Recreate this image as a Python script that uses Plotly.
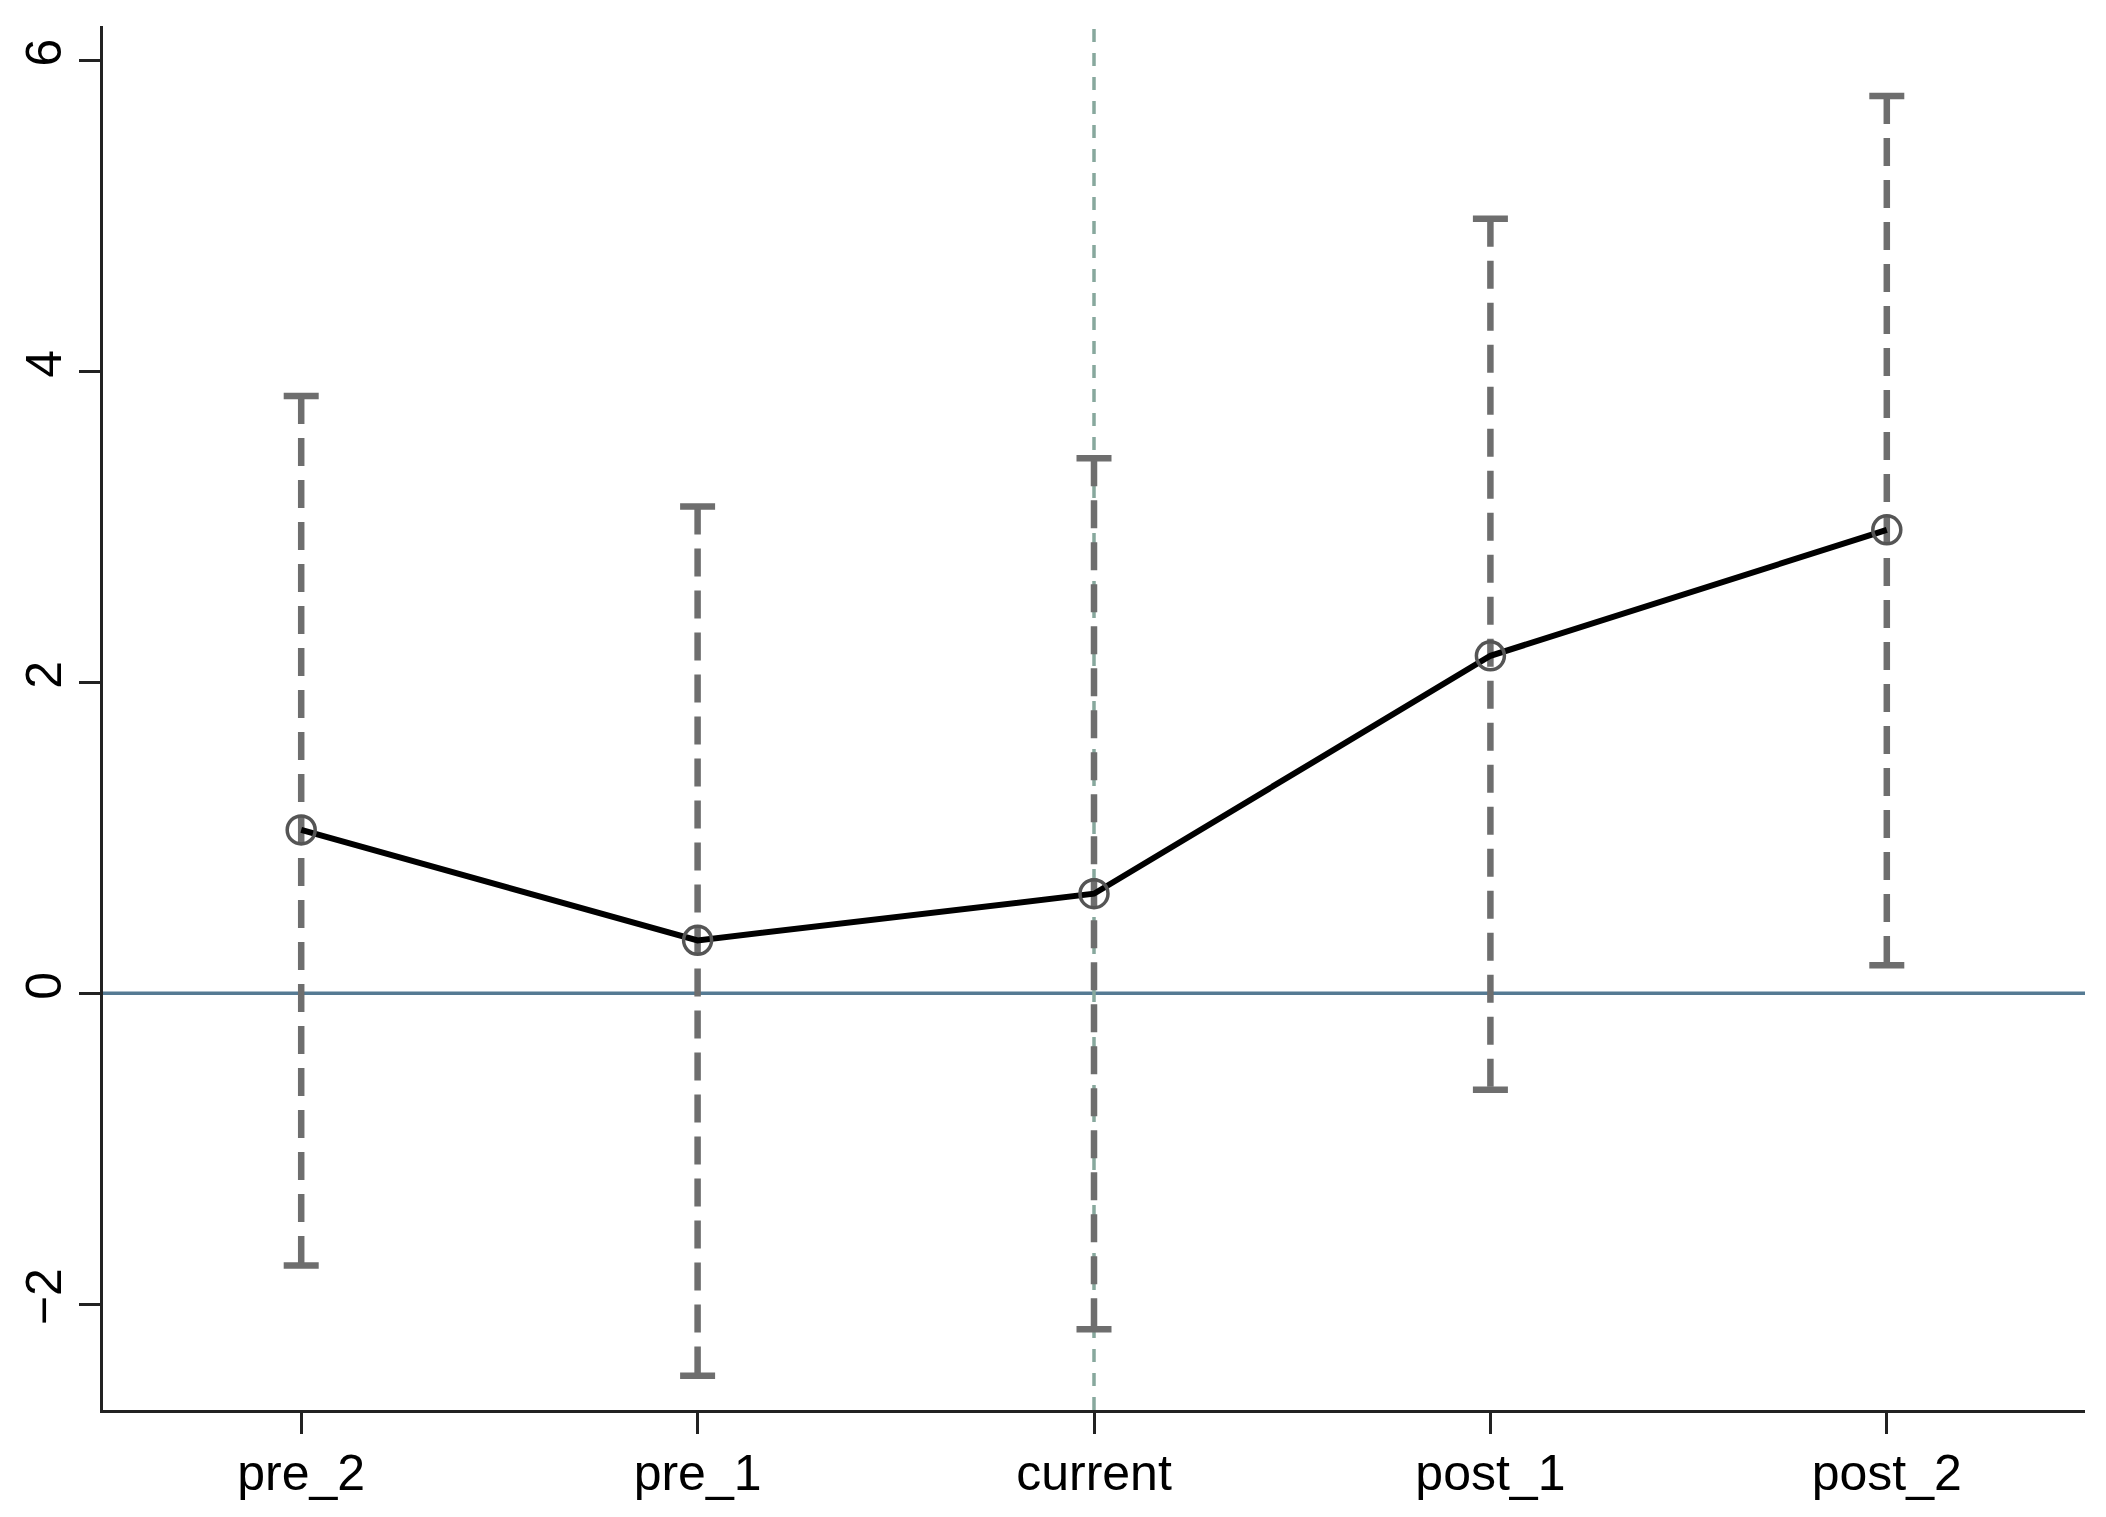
import plotly.graph_objects as go

categories = ["pre_2", "pre_1", "current", "post_1", "post_2"]
coef = [1.05, 0.34, 0.64, 2.17, 2.98]
ci_upper = [3.84, 3.13, 3.44, 4.98, 5.77]
ci_lower = [-1.75, -2.46, -2.16, -0.62, 0.18]
y_ticks = [-2, 0, 2, 4, 6]
event_category = "current"

BAR_COLOR = "#6e6e6e"
FONT = "Liberation Sans, Arial, sans-serif"

fig = go.Figure()

# dashed CI spikes
ex, ey = [], []
for c, lo, hi in zip(categories, ci_lower, ci_upper):
    ex += [c, c, None]
    ey += [hi, lo, None]
fig.add_trace(go.Scatter(
    x=ex, y=ey, mode="lines",
    line=dict(color=BAR_COLOR, width=6.5, dash="28px,14px"),
    hoverinfo="skip", showlegend=False,
))

# caps
fig.add_trace(go.Scatter(
    x=categories + categories, y=ci_upper + ci_lower, mode="markers",
    marker=dict(symbol="line-ew", size=25, line=dict(color=BAR_COLOR, width=6.5)),
    hoverinfo="skip", showlegend=False,
))

# coefficient line
fig.add_trace(go.Scatter(
    x=categories, y=coef, mode="lines",
    line=dict(color="black", width=6),
    showlegend=False,
))
fig.add_trace(go.Scatter(
    x=categories, y=coef, mode="markers",
    marker=dict(symbol="circle-open", size=28, color="#555555",
                line=dict(color="#555555", width=3.5)),
    showlegend=False,
))

# reference lines
fig.add_shape(type="line", xref="paper", x0=0, x1=1, yref="y", y0=0, y1=0,
              line=dict(color="#557a93", width=3.5), layer="below")
fig.add_shape(type="line", xref="x", x0=categories.index(event_category),
              x1=categories.index(event_category), yref="paper", y0=0, y1=1,
              line=dict(color="#87a89d", width=3.5, dash="13px,11px"), layer="below")

fig.update_layout(
    width=2090, height=1501,
    margin=dict(l=95, r=13, t=18, b=99, pad=0),
    paper_bgcolor="white", plot_bgcolor="white",
    font=dict(family=FONT, size=50, color="black"),
    showlegend=False,
)
fig.update_xaxes(
    type="category", categoryorder="array", categoryarray=categories,
    range=[-0.5, len(categories) - 0.5],
    showgrid=False, zeroline=False, automargin=False,
    showline=True, linecolor="#222222", linewidth=3,
    ticks="outside", ticklen=21, tickwidth=3, tickcolor="#222222",
    ticklabelstandoff=-4,
)
fig.update_yaxes(
    range=[-2.68, 6.22], tickvals=y_ticks,
    ticktext=[str(v).replace("-", "\u2212") for v in y_ticks],
    tickangle=-90,
    showgrid=False, zeroline=False, automargin=False,
    showline=True, linecolor="#222222", linewidth=3,
    ticks="outside", ticklen=21, tickwidth=3, tickcolor="#222222",
    ticklabelstandoff=-2,
)

fig.write_html("out.html")
